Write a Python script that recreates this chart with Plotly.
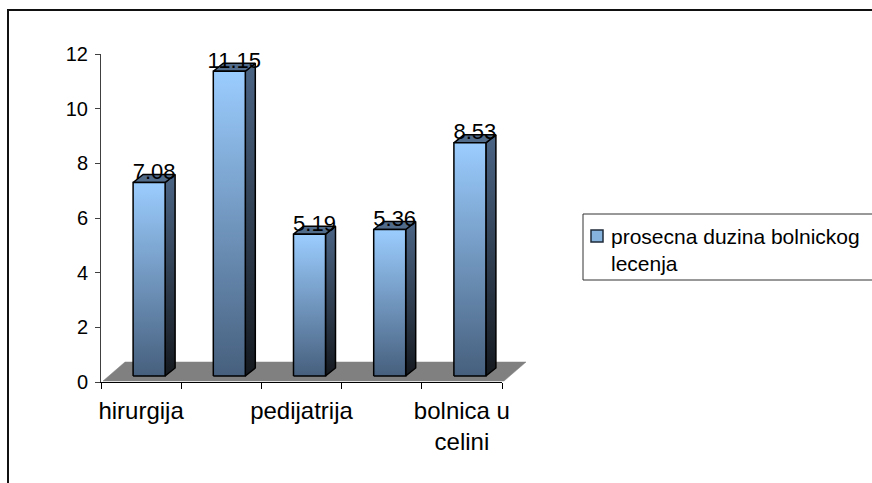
import plotly.graph_objects as go

# ---------------- data ----------------
categories = ["hirurgija", "interna", "pedijatrija", "ginekologija", "bolnica u celini"]
tick_labels = ["hirurgija", "", "pedijatrija", "", "bolnica u<br>celini"]
values = [7.08, 11.15, 5.19, 5.36, 8.53]
value_labels = ["7.08", "11.15", "5.19", "5.36", "8.53"]
series_name = "prosecna duzina bolnickog<br>lecenja"
y_ticks = [0, 2, 4, 6, 8, 10, 12]

# ---------------- geometry ----------------
W, H = 872, 483


def fx(p):  # page x pixel -> paper fraction
    return p / W


def fy(p):  # page y pixel -> paper fraction
    return (H - p) / H


AX_L, AX_R, AX_T, AX_B = 101, 502, 54, 382
n = len(categories)
ppx = (AX_R - AX_L) / n            # pixels per category
ppy = (AX_B - AX_T) / 12.0         # pixels per value unit
EXT_R = 545                        # right edge of the decoration subplot

FONT = "Liberation Sans, Arial, sans-serif"

front_l, front_r = -8 / ppx, 24 / ppx      # front face relative to category centre
base = 6 / ppy                             # bar base above axis plane
sx, sy = 10 / ppx, 8 / ppy                 # bar depth
fdx, fdy = 22 / ppx, 19 / ppy              # floor depth

fig = go.Figure()

# floor
fl = -0.5 + 2 / ppx
fr = n - 0.5 + 2 / ppx
fb = 1 / ppy
fig.add_trace(go.Scatter(
    x=[fl, fr, fr + fdx, fl + fdx, fl], y=[fb, fb, fb + fdy, fb + fdy, fb],
    mode="lines", fill="toself", fillcolor="#808080",
    line=dict(color="#808080", width=0.5), xaxis="x2", yaxis="y2",
    hoverinfo="skip", showlegend=False))

for i, v in enumerate(values):
    xl, xr = i + front_l, i + front_r
    b, t = base, base + v
    # side face
    fig.add_trace(go.Scatter(
        x=[xr, xr + sx, xr + sx, xr, xr], y=[b, b + sy, t + sy, t, b],
        mode="lines", fill="toself",
        fillgradient=dict(type="vertical",
                          colorscale=[[0, "#15191f"], [1, "#4b6585"]]),
        line=dict(color="black", width=1.5), xaxis="x2", yaxis="y2",
        hoverinfo="skip", showlegend=False))
    # top face
    fig.add_trace(go.Scatter(
        x=[xl, xr, xr + sx, xl + sx, xl], y=[t, t, t + sy, t + sy, t],
        mode="lines", fill="toself", fillcolor="#516b8b",
        line=dict(color="black", width=1.5), xaxis="x2", yaxis="y2",
        hoverinfo="skip", showlegend=False))
    # front face
    fig.add_trace(go.Scatter(
        x=[xl, xr, xr, xl, xl], y=[b, b, t, t, b],
        mode="lines", fill="toself",
        fillgradient=dict(type="vertical",
                          colorscale=[[0, "#465f7d"], [1, "#9bcdff"]]),
        line=dict(color="black", width=1.5), xaxis="x2", yaxis="y2",
        hoverinfo="skip", showlegend=False))

# value labels
fig.add_trace(go.Scatter(
    x=[i + (front_l + front_r) / 2 + sx / 2 for i in range(n)],
    y=[base + v + 9 / ppy for v in values],
    mode="text", text=value_labels, textposition="middle center",
    textfont=dict(family=FONT, size=22, color="black"),
    cliponaxis=False, xaxis="x2", yaxis="y2",
    hoverinfo="skip", showlegend=False))

# dummy trace on main axes so they are drawn
fig.add_trace(go.Scatter(x=[None], y=[None], mode="markers", showlegend=False,
                         hoverinfo="skip"))

fig.update_layout(
    width=W, height=H,
    margin=dict(l=0, r=0, t=0, b=0, autoexpand=False),
    paper_bgcolor="white", plot_bgcolor="rgba(0,0,0,0)",
    showlegend=False,
    xaxis=dict(domain=[fx(AX_L), fx(AX_R)], range=[-0.5, n - 0.5],
               tickmode="array", tickvals=list(range(n)), ticktext=tick_labels,
               ticks="", showline=True, linecolor="black", linewidth=1,
               showgrid=False, zeroline=False, fixedrange=True,
               ticklabelstandoff=7,
               tickfont=dict(family=FONT, size=24, color="black"),
               minor=dict(tickmode="array",
                          tickvals=[k - 0.5 for k in range(n + 1)],
                          ticks="outside", ticklen=6, tickwidth=1,
                          tickcolor="black", showgrid=False),
               anchor="y"),
    yaxis=dict(domain=[fy(AX_B), fy(AX_T)], range=[0, 12],
               tickmode="array", tickvals=y_ticks,
               ticks="outside", ticklen=5, tickcolor="#404040",
               showline=True, linecolor="#404040", linewidth=1,
               showgrid=False, zeroline=False, fixedrange=True,
               ticklabelstandoff=3,
               tickfont=dict(family=FONT, size=20, color="black"),
               anchor="x"),
    xaxis2=dict(domain=[fx(AX_L), fx(EXT_R)],
                range=[-0.5, -0.5 + (EXT_R - AX_L) / ppx],
                visible=False, fixedrange=True, anchor="y2"),
    yaxis2=dict(domain=[fy(AX_B), fy(AX_T)], range=[0, 12],
                visible=False, fixedrange=True, anchor="x2"),
)

# outer chart border (runs off the right and bottom of the page)
fig.add_shape(type="rect", xref="paper", yref="paper",
              x0=fx(8), x1=1.05, y0=-0.05, y1=fy(10),
              line=dict(color="#111111", width=2), fillcolor="rgba(0,0,0,0)",
              layer="above")

# legend (drawn by hand to match the original placement)
fig.add_shape(type="rect", xref="paper", yref="paper",
              x0=fx(583), x1=1.05, y0=fy(280), y1=fy(214),
              line=dict(color="#333333", width=1), fillcolor="white",
              layer="below")
fig.add_shape(type="rect", xref="paper", yref="paper",
              x0=fx(591), x1=fx(603), y0=fy(242), y1=fy(230),
              line=dict(color="#1e2a38", width=1.5), fillcolor="#86b2de")
fig.add_annotation(xref="paper", yref="paper", x=fx(609), y=fy(250),
                   xanchor="left", yanchor="middle", align="left",
                   text=series_name, showarrow=False,
                   font=dict(family=FONT, size=21, color="black"))

fig.write_html(
    "out.html",
    config={"displayModeBar": False, "staticPlot": True},
    post_script="document.body.style.margin='0';"
                "document.documentElement.style.overflow='hidden';")
